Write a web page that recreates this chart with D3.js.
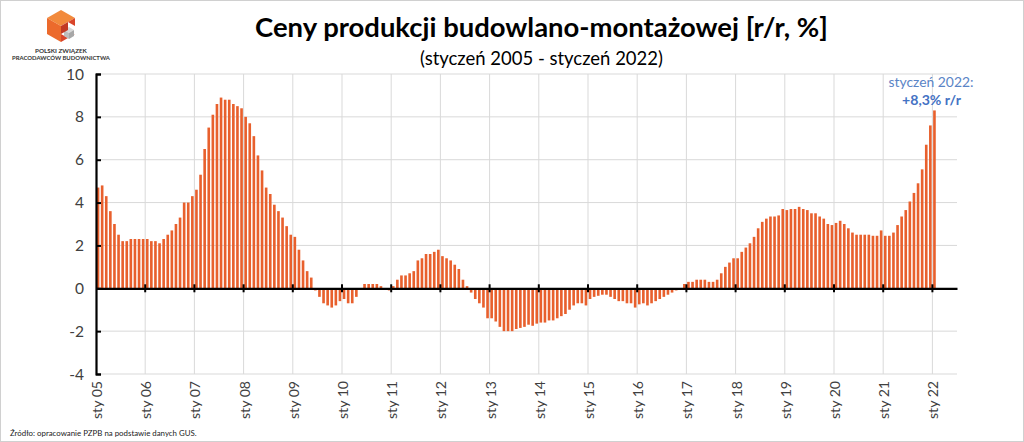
<!DOCTYPE html>
<html><head><meta charset="utf-8">
<script src="https://cdn.jsdelivr.net/npm/d3@7"></script>
<style>html,body{margin:0;padding:0;background:#fff;overflow:hidden}</style>
</head><body>
<svg id="c" width="1024" height="442"></svg>
<script>
// ---- data ----
const startYear = 2005;
const monthNames = ["sty","lut","mar","kwi","maj","cze","lip","sie","wrz","paź","lis","gru"];
const values = [
  // 2005
  4.7, 4.8, 4.3, 3.6, 3.0, 2.5, 2.2, 2.2, 2.3, 2.3, 2.3, 2.3,
  // 2006
  2.3, 2.2, 2.2, 2.1, 2.3, 2.5, 2.7, 3.0, 3.3, 4.0, 4.0, 4.3,
  // 2007
  4.6, 5.3, 6.5, 7.5, 8.1, 8.6, 8.9, 8.8, 8.8, 8.6, 8.5, 8.4,
  // 2008
  8.0, 7.7, 7.1, 6.2, 5.5, 4.7, 4.4, 3.9, 3.6, 3.3, 2.9, 2.5,
  // 2009
  2.4, 1.8, 1.3, 0.8, 0.5, -0.1, -0.4, -0.7, -0.8, -0.9, -0.8, -0.6,
  // 2010
  -0.5, -0.7, -0.7, -0.4, 0.0, 0.2, 0.2, 0.2, 0.2, 0.1, 0.0, -0.1,
  // 2011
  0.1, 0.4, 0.6, 0.6, 0.7, 0.8, 1.3, 1.4, 1.6, 1.6, 1.7, 1.8,
  // 2012
  1.5, 1.4, 1.3, 1.1, 0.9, 0.4, 0.1, -0.2, -0.5, -0.7, -0.9, -1.4,
  // 2013
  -1.4, -1.55, -1.8, -2.0, -2.0, -2.0, -1.9, -1.85, -1.8, -1.7, -1.75, -1.65,
  // 2014
  -1.6, -1.6, -1.5, -1.5, -1.4, -1.3, -1.2, -1.0, -0.8, -0.7, -0.7, -0.8,
  // 2015
  -0.5, -0.4, -0.35, -0.3, -0.3, -0.4, -0.5, -0.6, -0.6, -0.7, -0.7, -0.9,
  // 2016
  -0.75, -0.7, -0.8, -0.7, -0.6, -0.5, -0.4, -0.3, -0.2, -0.1, -0.05, 0.2,
  // 2017
  0.3, 0.3, 0.4, 0.4, 0.4, 0.3, 0.3, 0.4, 0.7, 1.0, 1.2, 1.4,
  // 2018
  1.4, 1.7, 1.9, 2.1, 2.4, 2.8, 3.1, 3.25, 3.35, 3.35, 3.4, 3.7,
  // 2019
  3.65, 3.7, 3.7, 3.8, 3.7, 3.65, 3.5, 3.5, 3.35, 3.25, 3.0, 2.95,
  // 2020
  3.05, 3.15, 3.0, 2.8, 2.6, 2.5, 2.5, 2.5, 2.5, 2.45, 2.45, 2.7,
  // 2021
  2.45, 2.45, 2.6, 2.95, 3.35, 3.65, 4.05, 4.45, 4.9, 5.55, 6.7, 7.6,
  // 2022
  8.3
];
const categories = values.map((v, i) => monthNames[i % 12] + " " + String((startYear + Math.floor(i / 12)) % 100).padStart(2, "0"));
const yTicks = [-4, -2, 0, 2, 4, 6, 8, 10];
const tickYears = d3.range(2005, 2023);
const tickLabels = tickYears.map(y => "sty " + String(y % 100).padStart(2, "0"));
const titleText = "Ceny produkcji budowlano-montażowej [r/r, %]";
const subtitleText = "(styczeń 2005 - styczeń 2022)";
const noteLines = ["styczeń 2022:", "+8,3% r/r"];
const sourceText = "Źródło: opracowanie PZPB na podstawie danych GUS.";
const logoLines = ["POLSKI ZWIĄZEK", "PRACODAWCÓW BUDOWNICTWA"];

// ---- drawing ----
const FONT = "Lato, Carlito, Calibri, 'Noto Sans', sans-serif";
const svg = d3.select("#c").style("font-family", FONT);
const W = 1024, H = 442;

function fit(sel, target) {
  const n = sel.node();
  const fs = parseFloat(sel.attr("font-size"));
  const len = n.getComputedTextLength();
  if (len > 0) sel.attr("font-size", (fs * target / len).toFixed(2));
  return sel;
}

svg.append("rect").attr("x", 0.5).attr("y", 0.5).attr("width", W - 1).attr("height", H - 1)
  .attr("fill", "#fff").attr("stroke", "#d0d0d0");

const nBands = 210;
const x = d3.scaleLinear().domain([0, nBands]).range([96, 957]);
const y = d3.scaleLinear().domain([-4, 10]).range([374, 74]);
const bw = x(1) - x(0);

// grid
const grid = svg.append("g");
grid.selectAll("line.h").data(yTicks.filter(t => t !== 0)).join("line")
  .attr("x1", x(0)).attr("x2", x(nBands)).attr("y1", d => y(d)).attr("y2", d => y(d))
  .attr("stroke", "#d9d9d9").attr("stroke-width", 1);
grid.selectAll("line.v").data(tickYears.slice(1)).join("line")
  .attr("x1", d => x((d - startYear) * 12)).attr("x2", d => x((d - startYear) * 12))
  .attr("y1", y(10)).attr("y2", y(-4))
  .attr("stroke", "#d9d9d9").attr("stroke-width", 1);

// bars
svg.append("g").selectAll("rect").data(values).join("rect")
  .attr("x", (d, i) => x(i) + bw * 0.18)
  .attr("width", bw * 0.64)
  .attr("y", d => y(Math.max(0, d)))
  .attr("height", d => Math.abs(y(d) - y(0)))
  .attr("fill", "#E8602D");

// y axis
const yAxis = d3.axisRight(y).tickValues(yTicks).tickSize(5).tickFormat("");
svg.append("g").attr("transform", `translate(${x(0)},0)`).call(yAxis)
  .call(g => g.select(".domain").attr("stroke", "#000").attr("stroke-width", 2.2))
  .call(g => g.selectAll(".tick line").attr("stroke", "#000").attr("stroke-width", 2));

const yl = svg.append("g");
yl.selectAll("text").data(yTicks).join("text")
  .attr("x", 84).attr("y", d => y(d)).attr("dy", "0.36em")
  .attr("text-anchor", "end").attr("font-size", 15).attr("fill", "#404040")
  .text(d => d);

// x axis at zero
const xAxis = d3.axisBottom(x).tickValues(tickYears.map(d => (d - startYear) * 12)).tickSize(0).tickFormat("");
const xg = svg.append("g").attr("transform", `translate(0,${y(0)})`).call(xAxis);
xg.select(".domain").attr("stroke", "#000").attr("stroke-width", 2.2);
xg.selectAll(".tick line").remove();
xg.selectAll("line.t").data(tickYears.slice(1)).join("line")
  .attr("x1", d => x((d - startYear) * 12)).attr("x2", d => x((d - startYear) * 12))
  .attr("y1", -4).attr("y2", 4).attr("stroke", "#000").attr("stroke-width", 2);

// x labels (rotated)
const xl = svg.append("g");
const xt = xl.selectAll("text").data(tickYears).join("text")
  .attr("transform", d => `translate(${x((d - startYear) * 12) + 1},381) rotate(-90)`)
  .attr("dy", "0.35em").attr("text-anchor", "end")
  .attr("font-size", 14).attr("fill", "#404040")
  .text((d, i) => tickLabels[i]);
// fit first label to measured length, apply to all
{
  const first = d3.select(xt.nodes()[0]);
  fit(first, 38);
  xt.attr("font-size", first.attr("font-size"));
}
{
  const t10 = d3.select(yl.selectAll("text").nodes()[7]);
  fit(t10, 18);
  yl.selectAll("text").attr("font-size", t10.attr("font-size"));
}

// titles
fit(svg.append("text").attr("x", 541.5).attr("y", 37).attr("text-anchor", "middle")
  .attr("font-size", 27).attr("font-weight", 700).attr("fill", "#000").text(titleText), 573);
fit(svg.append("text").attr("x", 541.5).attr("y", 65).attr("text-anchor", "middle")
  .attr("font-size", 18).attr("fill", "#000").text(subtitleText), 243);

// annotation
fit(svg.append("text").attr("x", 931).attr("y", 87).attr("text-anchor", "middle")
  .attr("font-size", 15).attr("fill", "#5A84C6").text(noteLines[0]), 85);
fit(svg.append("text").attr("x", 931.5).attr("y", 104.5).attr("text-anchor", "middle")
  .attr("font-size", 15).attr("font-weight", 700).attr("fill", "#4472C4").text(noteLines[1]), 59);

// source
fit(svg.append("text").attr("x", 10).attr("y", 436).attr("font-size", 9).attr("fill", "#222").text(sourceText), 187);

// logo
const lg = svg.append("g");
const P = pts => pts.map(p => p.join(",")).join(" ");
lg.append("polygon").attr("points", P([[47, 18], [61, 10], [75, 18], [61, 26]])).attr("fill", "#F28A3C");
lg.append("polygon").attr("points", P([[47, 18], [61, 26], [61, 42], [47, 34]])).attr("fill", "#EC6A2C");
lg.append("polygon").attr("points", P([[61, 26], [75, 18], [75, 34], [61, 42]])).attr("fill", "#D9452A");
// cut-out with grey block
lg.append("polygon").attr("points", P([[61, 26], [68, 22], [75, 26], [75, 34], [68, 38], [61, 34]])).attr("fill", "#fff");
lg.append("polygon").attr("points", P([[64, 30], [69, 27], [74, 30], [69, 33]])).attr("fill", "#d8d8d8");
lg.append("polygon").attr("points", P([[64, 30], [69, 33], [69, 39], [64, 36]])).attr("fill", "#bdbdbd");
lg.append("polygon").attr("points", P([[69, 33], [74, 30], [74, 36], [69, 39]])).attr("fill", "#a8a8a8");
lg.append("polygon").attr("points", P([[61, 26], [68, 22], [68, 30], [61, 34]])).attr("fill", "#C23A24");
fit(lg.append("text").attr("x", 61).attr("y", 52.5).attr("text-anchor", "middle")
  .attr("font-size", 7).attr("font-weight", 700).attr("fill", "#333").text(logoLines[0]), 52);
fit(lg.append("text").attr("x", 61).attr("y", 60).attr("text-anchor", "middle")
  .attr("font-size", 7).attr("font-weight", 700).attr("fill", "#333").text(logoLines[1]), 98);
</script>
</body></html>
